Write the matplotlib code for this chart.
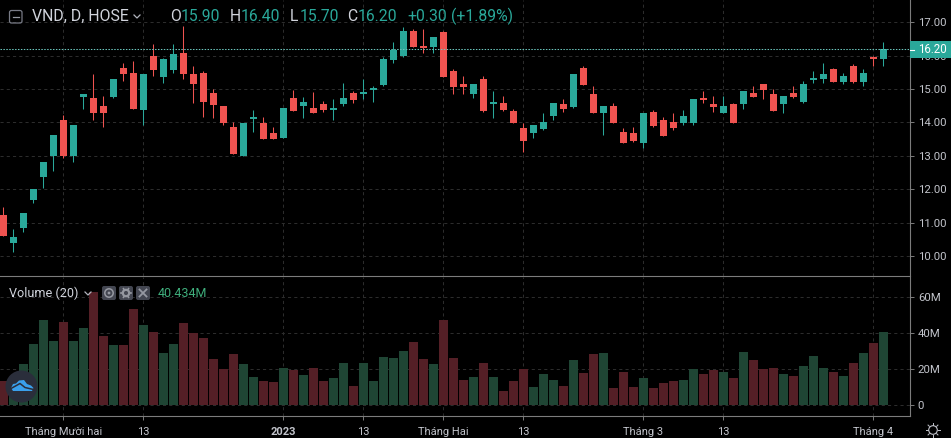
import numpy as np
import matplotlib.pyplot as plt
from matplotlib.patches import Circle, FancyBboxPatch, Polygon, Rectangle

plt.rcParams['font.family'] = ['Roboto', 'DejaVu Sans']

open_ = [11.22, 10.38, 10.83, 11.69, 12.37, 12.98, 14.07, 12.98, 14.77, 14.72, 14.50, 14.77, 15.63, 15.49, 14.38,
         15.99, 15.37, 15.58, 16.09, 15.46, 15.49, 14.89, 14.50, 13.86, 12.98, 14.10, 13.98, 13.68, 13.53, 14.72,
         14.49, 14.43, 14.56, 14.38, 14.56, 14.89, 14.86, 14.98, 15.13, 15.88, 15.98, 16.75, 16.30, 16.27, 16.72,
         15.55, 15.16, 14.86, 15.31, 14.56, 14.59, 14.35, 13.83, 13.68, 13.80, 14.18, 14.56, 14.47, 15.64, 14.86,
         14.27, 14.50, 13.71, 13.68, 13.38, 14.31, 14.07, 14.00, 13.98, 13.98, 14.74, 14.56, 14.27, 14.56, 14.56,
         14.89, 15.16, 14.86, 14.56, 14.89, 14.62, 15.28, 15.31, 15.61, 15.22, 15.70, 15.22, 15.95, 15.90]
high = [11.46, 10.82, 11.28, 12.01, 12.80, 13.62, 14.22, 13.92, 14.86, 15.46, 14.80, 15.30, 15.78, 15.85, 15.46,
        16.36, 15.93, 16.36, 16.90, 15.70, 15.55, 15.01, 14.50, 14.01, 13.98, 14.37, 14.16, 13.86, 14.43, 14.97,
        14.75, 14.91, 14.65, 14.71, 15.19, 14.95, 15.31, 15.10, 15.95, 16.42, 16.87, 16.81, 16.81, 16.57, 16.75,
        15.61, 15.40, 15.16, 15.40, 14.95, 14.80, 14.41, 13.98, 13.92, 14.27, 14.59, 14.71, 15.46, 15.70, 15.10,
        14.50, 14.59, 13.83, 13.86, 14.28, 14.37, 14.16, 14.27, 14.36, 14.71, 14.95, 14.80, 14.80, 14.59, 14.95,
        15.10, 15.16, 15.01, 14.80, 15.10, 15.25, 15.55, 15.79, 15.64, 15.49, 15.76, 15.61, 16.00, 16.40]
low = [10.60, 10.11, 10.71, 11.60, 12.04, 12.56, 12.92, 12.80, 14.41, 14.07, 13.86, 14.72, 15.25, 14.41, 13.92,
       15.40, 15.19, 15.49, 15.31, 14.59, 14.16, 14.13, 13.92, 13.04, 12.98, 13.71, 13.50, 13.50, 13.53, 14.33,
       14.13, 14.28, 14.30, 14.07, 14.50, 14.59, 14.71, 14.60, 15.10, 15.79, 15.95, 16.27, 16.07, 16.07, 15.37,
       14.86, 14.86, 14.74, 14.30, 14.13, 14.35, 13.98, 13.10, 13.53, 13.77, 14.07, 14.30, 14.44, 15.13, 14.27,
       13.62, 13.98, 13.38, 13.41, 13.23, 13.86, 13.59, 13.77, 13.92, 13.92, 14.59, 14.30, 14.27, 13.98, 14.41,
       14.77, 14.71, 14.33, 14.27, 14.74, 14.59, 15.19, 15.19, 15.22, 15.16, 15.19, 15.10, 15.70, 15.70]
close = [10.60, 10.56, 11.28, 12.01, 12.80, 13.62, 12.98, 13.92, 14.86, 14.28, 14.28, 15.30, 15.46, 14.41, 15.46,
         15.58, 15.91, 16.06, 15.46, 15.16, 14.62, 14.53, 13.98, 13.04, 13.98, 14.13, 13.50, 13.50, 14.43, 14.33,
         14.60, 14.28, 14.38, 14.41, 14.74, 14.68, 14.89, 15.01, 15.91, 16.16, 16.75, 16.27, 16.24, 16.57, 15.37,
         15.07, 15.07, 15.16, 14.33, 14.59, 14.38, 13.98, 13.44, 13.92, 14.00, 14.59, 14.41, 15.46, 15.13, 14.27,
         14.50, 13.98, 13.38, 13.44, 14.28, 13.89, 13.59, 13.83, 14.20, 14.71, 14.68, 14.47, 14.50, 13.98, 14.95,
         14.77, 14.98, 14.33, 14.80, 14.77, 15.16, 15.31, 15.46, 15.22, 15.40, 15.22, 15.49, 15.89, 16.20]
volume = [13.2, 12.0, 22.7, 33.9, 47.3, 35.6, 46.2, 35.6, 42.8, 62.9, 38.4, 33.3, 33.3, 53.4, 44.5,
          40.6, 28.9, 33.9, 45.6, 40.0, 37.2, 25.5, 19.9, 28.3, 22.7, 15.5, 13.2, 12.7, 20.5, 19.4,
          16.6, 20.5, 13.2, 14.9, 23.3, 10.4, 23.3, 13.2, 26.6, 26.1, 30.0, 35.0, 25.5, 22.7, 47.3,
          26.1, 13.8, 15.5, 23.3, 15.5, 7.6, 13.2, 19.9, 9.9, 17.1, 13.8, 10.4, 25.0, 17.7, 28.3,
          28.9, 9.3, 18.2, 9.9, 14.9, 9.3, 12.1, 13.2, 13.8, 19.9, 17.1, 19.4, 18.2, 14.9, 29.4,
          25.0, 19.9, 20.5, 17.1, 16.0, 21.6, 27.2, 20.5, 18.2, 16.0, 23.3, 28.9, 34.5, 40.4]

price_ticks = [10, 11, 12, 13, 14, 15, 16, 17]
volume_ticks = [0, 20, 40, 60]
volume_labels = ['0', '20M', '40M', '60M']
date_ticks = [6, 14, 28, 36, 44, 52, 64, 72, 87]
date_labels = ['Tháng Mười hai', '13', '2023', '13', 'Tháng Hai', '13', 'Tháng 3', '13', 'Tháng 4']
last_price = 16.20

TEAL = '#2aa89a'
RED = '#ef5350'
GRID = '#2c2c2c'
AXIS = '#7c7c7c'
LABEL = '#c2c4cb'
W, H = 951, 438

fig = plt.figure(figsize=(W / 100, H / 100), dpi=100, facecolor='black')
ax = fig.add_axes([0, 1 - 276 / H, 909.5 / W, 276 / H], facecolor='black')
ax_vol = fig.add_axes([0, 1 - 416.3 / H, 909.5 / W, (416.3 - 277) / H], facecolor='black')

x = np.arange(len(close))
o = np.array(open_)
c = np.array(close)
up = c >= o
colors = [TEAL if u else RED for u in up]
bottoms = np.minimum(o, c)
heights = np.maximum(np.abs(c - o), 0.05)

# candles
ax.vlines(x, low, high, colors=colors, linewidth=0.75, zorder=3)
ax.bar(x, heights, bottom=bottoms, width=0.7, color=colors, linewidth=0, zorder=4)
ax.axhline(last_price, color='#6cc8bf', linewidth=0.75, linestyle=(0, (1.4, 1.4)), zorder=5)

ax.set_xlim(-0.33, 90.62)
ax.set_ylim(9.40, 17.667)
ax.set_xticks(date_ticks)
ax.set_yticks(price_ticks)
ax.set_yticklabels(['%.2f' % p for p in price_ticks])

# volume
vol_colors = ['#1f4534' if u else '#541f26' for u in up]
ax_vol.bar(x, volume, width=0.9, color=vol_colors, linewidth=0, zorder=3)
ax_vol.set_xlim(-0.33, 90.62)
ax_vol.set_ylim(-6.5, 71.3)
ax_vol.set_yticks(volume_ticks)
ax_vol.set_yticklabels(volume_labels)
ax_vol.set_xticks(date_ticks)
ax_vol.set_xticklabels(date_labels)
for t in ax_vol.get_xticklabels():
    if t.get_text() == '2023':
        t.set_fontweight('bold')

for a in (ax, ax_vol):
    a.grid(True, color=GRID, linewidth=0.75, linestyle=(0, (3, 3)), zorder=0)
    a.set_axisbelow(True)
    a.yaxis.tick_right()
    for s in ('top', 'left', 'bottom'):
        a.spines[s].set_visible(False)
    a.spines['right'].set_color(AXIS)
    a.spines['right'].set_linewidth(0.8)
    a.tick_params(axis='y', labelcolor=LABEL, color=AXIS, labelsize=8.2, length=3, width=0.7, pad=3)
ax.tick_params(axis='x', length=0, labelbottom=False)
ax_vol.spines['bottom'].set_visible(True)
ax_vol.spines['bottom'].set_color(AXIS)
ax_vol.spines['bottom'].set_linewidth(0.8)
ax_vol.tick_params(axis='x', labelcolor=LABEL, color=AXIS, labelsize=8.0, length=3, width=0.7, pad=5)

# overlay in pixel coordinates for legend, icons and the price label
ov = fig.add_axes([0, 0, 1, 1], facecolor='none')
ov.set_xlim(0, W)
ov.set_ylim(H, 0)
ov.axis('off')

ov.plot([0, 909.5], [276.3, 276.3], color=AXIS, linewidth=0.8)

# last price label
ov.add_patch(Rectangle((909.5, 41), 41.5, 17, facecolor=TEAL, edgecolor='none', zorder=5))
ov.plot([909.5, 913.5], [49.5, 49.5], color='white', linewidth=0.8, zorder=6)
ov.text(918.5, 49.5, '16.20', color='white', fontsize=8.3, va='center', ha='left', zorder=6)

# header legend
ov.add_patch(FancyBboxPatch((9.5, 10.5), 12.5, 12.5, boxstyle='round,pad=0,rounding_size=2',
                            facecolor='none', edgecolor='#787b86', linewidth=0.9))
ov.plot([12.5, 19], [16.8, 16.8], color='#9598a1', linewidth=0.9)
ov.text(32, 16.5, 'VND, D, HOSE', color='#d1d4dc', fontsize=11.45, va='center', ha='left')
ov.plot([134, 137, 140], [15, 18, 15], color='#b2b5be', linewidth=0.9)
header = [(170, 'O', '15.90'), (230, 'H', '16.40'), (289.5, 'L', '15.70'), (347, 'C', '16.20')]
for px, name, val in header:
    ov.text(px, 16.5, name, color='#d1d4dc', fontsize=11.3, va='center', ha='left')
    ov.text(px + 10.5, 16.5, val, color=TEAL, fontsize=11.3, va='center', ha='left')
ov.text(407, 16.5, '+0.30', color=TEAL, fontsize=11.3, va='center', ha='left')
ov.text(451, 16.5, '(+1.89%)', color=TEAL, fontsize=11.3, va='center', ha='left')

# volume legend
ov.text(9, 293.5, 'Volume (20)', color='#d1d4dc', fontsize=9.1, va='center', ha='left')
ov.plot([85, 88, 91], [292, 295, 292], color='#b2b5be', linewidth=0.9)
for bx in (102, 119, 136):
    ov.add_patch(FancyBboxPatch((bx, 286), 14, 14, boxstyle='round,pad=0,rounding_size=2',
                                facecolor='#434651', edgecolor='none'))
ov.add_patch(Circle((109, 293), 4.2, facecolor='none', edgecolor='#9598a1', linewidth=1.1))
ov.add_patch(Circle((109, 293), 1.4, facecolor='#9598a1', edgecolor='none'))
ov.add_patch(Circle((126, 293), 3.2, facecolor='none', edgecolor='#9598a1', linewidth=1.6))
for ang in np.arange(0, 360, 60):
    ca, sa = np.cos(np.radians(ang)), np.sin(np.radians(ang))
    ov.plot([126 + 3.5 * ca, 126 + 5 * ca], [293 + 3.5 * sa, 293 + 5 * sa], color='#9598a1', linewidth=1.2)
ov.plot([139.5, 146.5], [289.5, 296.5], color='#9598a1', linewidth=1.3)
ov.plot([139.5, 146.5], [296.5, 289.5], color='#9598a1', linewidth=1.3)
ov.text(158, 293.5, '40.434M', color='#3fae7c', fontsize=9.0, va='center', ha='left')

# logo
ov.add_patch(Circle((21.5, 386.5), 16, facecolor='#2a2e3b', edgecolor='none'))
ov.add_patch(Polygon([(11, 388), (13, 384), (16, 383.5), (19, 380.5), (24, 380), (27, 384), (31, 385.5),
                      (33.5, 388), (32, 391), (13, 391)],
                     closed=True, facecolor='#3aa0ec', edgecolor='none'))
ov.plot([11, 20, 25, 33.5], [388.5, 383.5, 387.5, 389.5], color='#2a2e3b', linewidth=1.1)

# settings sun icon
ov.add_patch(Circle((933, 430), 4.3, facecolor='none', edgecolor=LABEL, linewidth=0.8))
for ang in np.arange(0, 360, 45):
    ca, sa = np.cos(np.radians(ang)), np.sin(np.radians(ang))
    ov.plot([933 + 5.2 * ca, 933 + 7 * ca], [430 + 5.2 * sa, 430 + 7 * sa], color=LABEL, linewidth=0.7)

fig.savefig('out.png', dpi=100, facecolor='black')
